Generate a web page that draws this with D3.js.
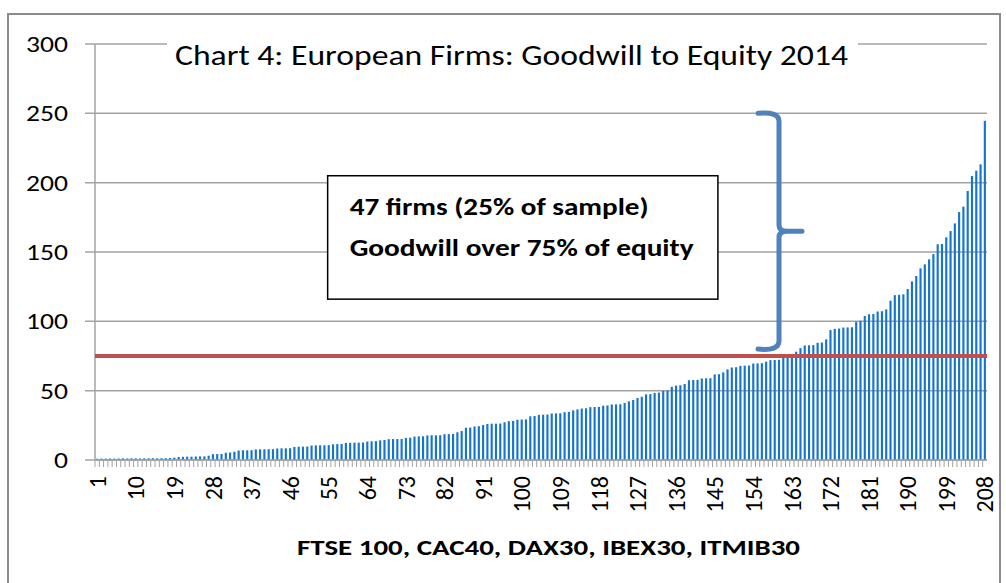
<!DOCTYPE html>
<html>
<head>
<meta charset="utf-8">
<script src="https://cdn.jsdelivr.net/npm/d3@7"></script>
<style>
  body { margin: 0; background: #fff; }
  text { font-family: Carlito, Lato, "Open Sans", sans-serif; fill: #000; }
</style>
</head>
<body>
<div id="chart"></div>
<script>
// Goodwill to equity (%) for each firm, sorted ascending
const goodwill = [
  0.9, 1.0, 1.0, 1.1, 1.0, 1.1, 1.2, 1.1, 1.2, 1.2, 1.1, 1.2, 1.2, 1.3, 1.2, 1.3, 1.3, 1.4,
  1.7,
  2.2, 2.3, 2.4, 2.4, 2.5, 2.6, 2.6,
  3.1,
  4.2, 4.3, 4.4,
  5.2, 5.4,
  6.0,
  6.8, 7.0, 7.0, 7.1,
  7.6, 7.7, 7.7, 7.8, 7.8,
  8.3, 8.4, 8.4, 8.5,
  9.4, 9.6, 9.6, 9.7,
  10.4, 10.5, 10.6, 10.6, 10.7,
  11.3, 11.5, 11.6,
  12.3, 12.4, 12.5, 12.5, 12.6,
  13.3, 13.5, 13.6,
  14.2, 14.4,
  15.0, 15.1, 15.1, 15.2,
  15.9, 16.1,
  16.9, 17.0, 17.1,
  17.7, 17.8, 17.8, 17.9,
  18.6, 18.7, 18.8,
  20.0, 20.9,
  23.2, 23.4, 24.2, 24.4, 25.2,
  26.0, 26.2, 26.2, 26.3,
  27.2, 28.0, 28.2,
  29.0, 29.2, 29.3,
  31.5, 31.7,
  32.5, 32.7, 32.8,
  33.5, 33.6, 33.7,
  34.5, 34.7, 35.8, 36.5,
  37.1, 37.3,
  38.1, 38.2, 38.3,
  39.1, 39.3,
  40.0, 40.1, 40.2,
  41.1, 42.3, 43.3, 44.7, 45.6,
  47.3, 47.5, 48.4, 48.6, 49.9, 50.1,
  52.8, 53.7, 53.9, 54.8,
  57.5, 57.7, 57.8,
  58.8, 58.9, 59.0,
  61.7, 61.9, 63.2, 65.4, 66.7, 66.9,
  67.9, 68.0, 68.1,
  69.6, 69.7, 69.8, 70.9,
  72.0, 72.1, 72.2,
  73.7, 73.8, 73.9,
  78.1, 80.7,
  82.6, 82.7, 82.8,
  84.5, 84.7, 87.0,
  93.7, 94.6, 94.8,
  95.5, 95.6, 95.7,
  99.7, 100.4, 103.8, 105.1, 105.3, 107.1, 107.3, 108.6,
  114.9, 118.9, 119.1, 119.5, 123.3, 128.8, 132.7, 138.2,
  141.1, 144.7, 148.5, 155.6, 155.8, 160.6, 165.1, 170.6,
  178.8, 182.7, 194.0, 204.8, 208.6, 213.2, 244.6
];
const firmIds = d3.range(1, goodwill.length + 1);
const labelledIds = firmIds.filter((d, i) => i % 9 === 0);
const yTicks = [0, 50, 100, 150, 200, 250, 300];
const threshold = 75;

const chartTitle = "Chart 4: European Firms: Goodwill to Equity 2014";
const xTitle = "FTSE 100, CAC40, DAX30, IBEX30, ITMIB30";
const noteLines = ["47 firms (25% of sample)", "Goodwill over 75% of equity"];

// Dimensions
const W = 1006, H = 583;
const margin = { top: 44, right: 19, bottom: 123, left: 95 };
const width = W - margin.left - margin.right;
const height = H - margin.top - margin.bottom;

const root = d3.select("#chart").append("svg")
    .attr("width", W)
    .attr("height", H);

// Chart frame
root.append("rect")
    .attr("x", 8).attr("y", 14)
    .attr("width", 992).attr("height", 600)
    .attr("fill", "#fff")
    .attr("stroke", "#8c8c8c")
    .attr("stroke-width", 2);

const svg = root.append("g")
    .attr("transform", `translate(${margin.left},${margin.top})`);

// Scales
const x = d3.scaleBand()
    .domain(firmIds)
    .range([0, width])
    .paddingInner(0.5)
    .paddingOuter(0.25);

const y = d3.scaleLinear()
    .domain([0, 300])
    .range([height, 0]);

// Gridlines + y labels
svg.append("g")
    .selectAll("line")
    .data(yTicks)
    .enter()
    .append("line")
    .attr("x1", -10)
    .attr("x2", width)
    .attr("y1", d => y(d))
    .attr("y2", d => y(d))
    .attr("stroke", "#a3a3a3")
    .attr("stroke-width", 1.5);

// the source picture is stretched sideways, so labels get a horizontal scale
svg.append("g")
    .selectAll("text")
    .data(yTicks)
    .enter()
    .append("text")
    .attr("transform", d => `translate(-27,${y(d)}) scale(1.2,1)`)
    .attr("dy", "0.35em")
    .attr("text-anchor", "end")
    .style("font-size", "23px")
    .text(d => d);

// Title (white box hides the top gridline)
const titleG = root.append("g");
titleG.append("rect")
    .attr("x", 167).attr("y", 34)
    .attr("width", 691).attr("height", 42)
    .attr("fill", "#fff");
titleG.append("text")
    .attr("x", 175)
    .attr("y", 65)
    .attr("textLength", 673)
    .attr("lengthAdjust", "spacingAndGlyphs")
    .style("font-size", "28px")
    .text(chartTitle);

// y axis line
svg.append("line")
    .attr("x1", 0).attr("x2", 0)
    .attr("y1", 0).attr("y2", height)
    .attr("stroke", "#a3a3a3")
    .attr("stroke-width", 1.5);

// Bars
svg.selectAll(".bar")
    .data(goodwill)
    .enter()
    .append("rect")
    .attr("class", "bar")
    .attr("x", (d, i) => x(firmIds[i]))
    .attr("y", d => y(d))
    .attr("width", x.bandwidth())
    .attr("height", d => height - y(d))
    .attr("fill", "#1574cc");

// x axis: tick marks at every category, labels every 9th
const step = x.step();
svg.append("g")
    .selectAll("line")
    .data(firmIds)
    .enter()
    .append("line")
    .attr("x1", d => x(d) - step * 0.25)
    .attr("x2", d => x(d) - step * 0.25)
    .attr("y1", height)
    .attr("y2", height + 7)
    .attr("stroke", "#a3a3a3")
    .attr("stroke-width", 1);

svg.append("line")
    .attr("x1", 0).attr("x2", width)
    .attr("y1", height).attr("y2", height)
    .attr("stroke", "#a3a3a3")
    .attr("stroke-width", 1.5);

svg.append("g")
    .selectAll("text")
    .data(labelledIds)
    .enter()
    .append("text")
    .attr("transform", d => `translate(${x(d) + x.bandwidth() / 2},${height + 16}) rotate(-90)`)
    .attr("dy", "0.36em")
    .attr("text-anchor", "end")
    .style("font-size", "24px")
    .text(d => d);

// x axis title
root.append("text")
    .attr("x", 297)
    .attr("y", 555)
    .attr("textLength", 503)
    .attr("lengthAdjust", "spacingAndGlyphs")
    .style("font-size", "23px")
    .style("font-weight", "bold")
    .text(xTitle);

// Threshold line at 75%
svg.append("line")
    .attr("x1", 0).attr("x2", width)
    .attr("y1", y(threshold)).attr("y2", y(threshold))
    .attr("stroke", "#c0504d")
    .attr("stroke-width", 4);

// Annotation box
const boxX0 = x(55), boxX1 = x(146);
const boxY0 = y(205), boxY1 = y(116);
svg.append("rect")
    .attr("x", boxX0).attr("y", boxY0)
    .attr("width", boxX1 - boxX0).attr("height", boxY1 - boxY0)
    .attr("fill", "#fff")
    .attr("stroke", "#000")
    .attr("stroke-width", 1.5);

const noteWidths = [299, 344];
noteLines.forEach((line, i) => {
    svg.append("text")
        .attr("x", boxX0 + 22)
        .attr("y", boxY0 + 39 + i * 41)
        .attr("textLength", noteWidths[i])
        .attr("lengthAdjust", "spacingAndGlyphs")
        .style("font-size", "25px")
        .style("font-weight", "bold")
        .text(line);
});

// Curly brace over the firms above 75%
const bx = x(160) + x.bandwidth() / 2;
const yTop = y(250), yMid = y(165), yBot = y(80);
const brace = d3.path();
brace.moveTo(bx - 21, yTop);
brace.quadraticCurveTo(bx, yTop - 2, bx, yTop + 8);
brace.lineTo(bx, yMid - 6);
brace.quadraticCurveTo(bx, yMid, bx + 8, yMid);
brace.lineTo(bx + 23, yMid);
brace.moveTo(bx + 8, yMid);
brace.quadraticCurveTo(bx, yMid, bx, yMid + 6);
brace.lineTo(bx, yBot - 8);
brace.quadraticCurveTo(bx, yBot + 2, bx - 21, yBot);

svg.append("path")
    .attr("d", brace.toString())
    .attr("fill", "none")
    .attr("stroke", "#4f81bd")
    .attr("stroke-width", 5)
    .attr("stroke-linecap", "round")
    .attr("stroke-linejoin", "round");
</script>
</body>
</html>
